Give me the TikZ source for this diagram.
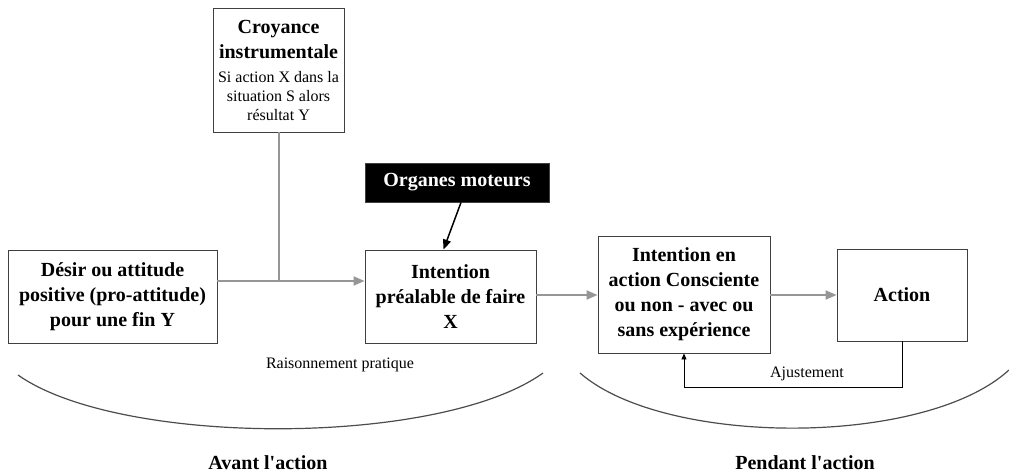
\documentclass[tikz,border=0pt]{standalone}
\usepackage{fontspec}
\setmainfont{Liberation Serif}
\usetikzlibrary{arrows.meta}
\definecolor{arrgray}{RGB}{150,150,150}
\newcommand\smallfnt{\fontsize{16}{19}\selectfont\mdseries}
\tikzset{
  box/.style={draw=black!75, line width=0.9pt, align=center, inner sep=0pt, font=\fontsize{20}{25}\selectfont\bfseries},
  garrow/.style={draw=arrgray, line width=2pt, -{Triangle[length=11pt,width=9pt]}},
  gline/.style={draw=arrgray, line width=2pt},
  small/.style={font=\fontsize{16}{19}\selectfont},
  arcline/.style={draw=black!70, line width=1.2pt},
}
\begin{document}
\begin{tikzpicture}[x=1pt,y=-1pt]
\useasboundingbox (0,0) rectangle (1009,473);
% boxes
\node[box, minimum width=131pt, minimum height=124pt] (croy) at (278.5,70)
  {Croyance\\instrumentale\\[-1pt]\smallfnt Si action X dans la\\[-6pt]\smallfnt situation S alors\\[-6pt]\smallfnt résultat Y};
\node[box, minimum width=209pt, minimum height=93pt] (desir) at (112.5,296.5)
  {Désir ou attitude\\positive (pro-attitude)\\pour une fin Y};
\node[box, minimum width=171pt, minimum height=93pt] (intp) at (450.5,296.5)
  {Intention\\préalable de faire\\X};
\node[box, fill=black, text=white, minimum width=184pt, minimum height=39pt] (org) at (457,182.5)
  {Organes moteurs};
\node[box, minimum width=172pt, minimum height=117pt] (inta) at (684,294.5)
  {Intention en\\action Consciente\\ou non - avec ou\\sans expérience};
\node[box, minimum width=130pt, minimum height=92pt] (act) at (902,295)
  {Action};
% connectors
\coordinate (join) at (croy.south |- 0,281);
\draw[gline] (croy.south) -- (join);
\draw[garrow] (desir.east |- 0,281) -- (intp.west |- 0,281);
\draw[garrow] (intp.east |- 0,295) -- (inta.west |- 0,295);
\draw[garrow] (inta.east |- 0,295) -- (act.west |- 0,295);
\draw[black, line width=1.5pt, -{Triangle[length=10pt,width=8pt]}] ([xshift=4pt]org.south) -- ([xshift=-7pt]intp.north);
\coordinate (fb1) at (act.south |- 0,387);
\coordinate (fb2) at (inta.south |- 0,387);
\draw[black, line width=0.9pt, -{Triangle[length=6pt,width=5pt]}] (act.south) -- (fb1) -- (fb2) -- (inta.south);
\node[small, anchor=south] (aj) at (807,384) {Ajustement};
% arcs
\coordinate (la) at (18,375);
\coordinate (lb) at (543,373);
\coordinate (ra) at (580,373);
\coordinate (rb) at (1009,370);
\draw[arcline] (la) .. controls (120,447) and (440,447) .. (lb);
\draw[arcline] (ra) .. controls (665,447) and (925,447) .. (rb);
% labels
\node[small] (raison) at (340,365) {Raisonnement pratique};
\node[font=\fontsize{20}{25}\selectfont\bfseries] (avant) at (268,463) {Avant l\textquotesingle action};
\node[font=\fontsize{20}{25}\selectfont\bfseries] (pendant) at (805,463) {Pendant l\textquotesingle action};
\end{tikzpicture}
\end{document}
